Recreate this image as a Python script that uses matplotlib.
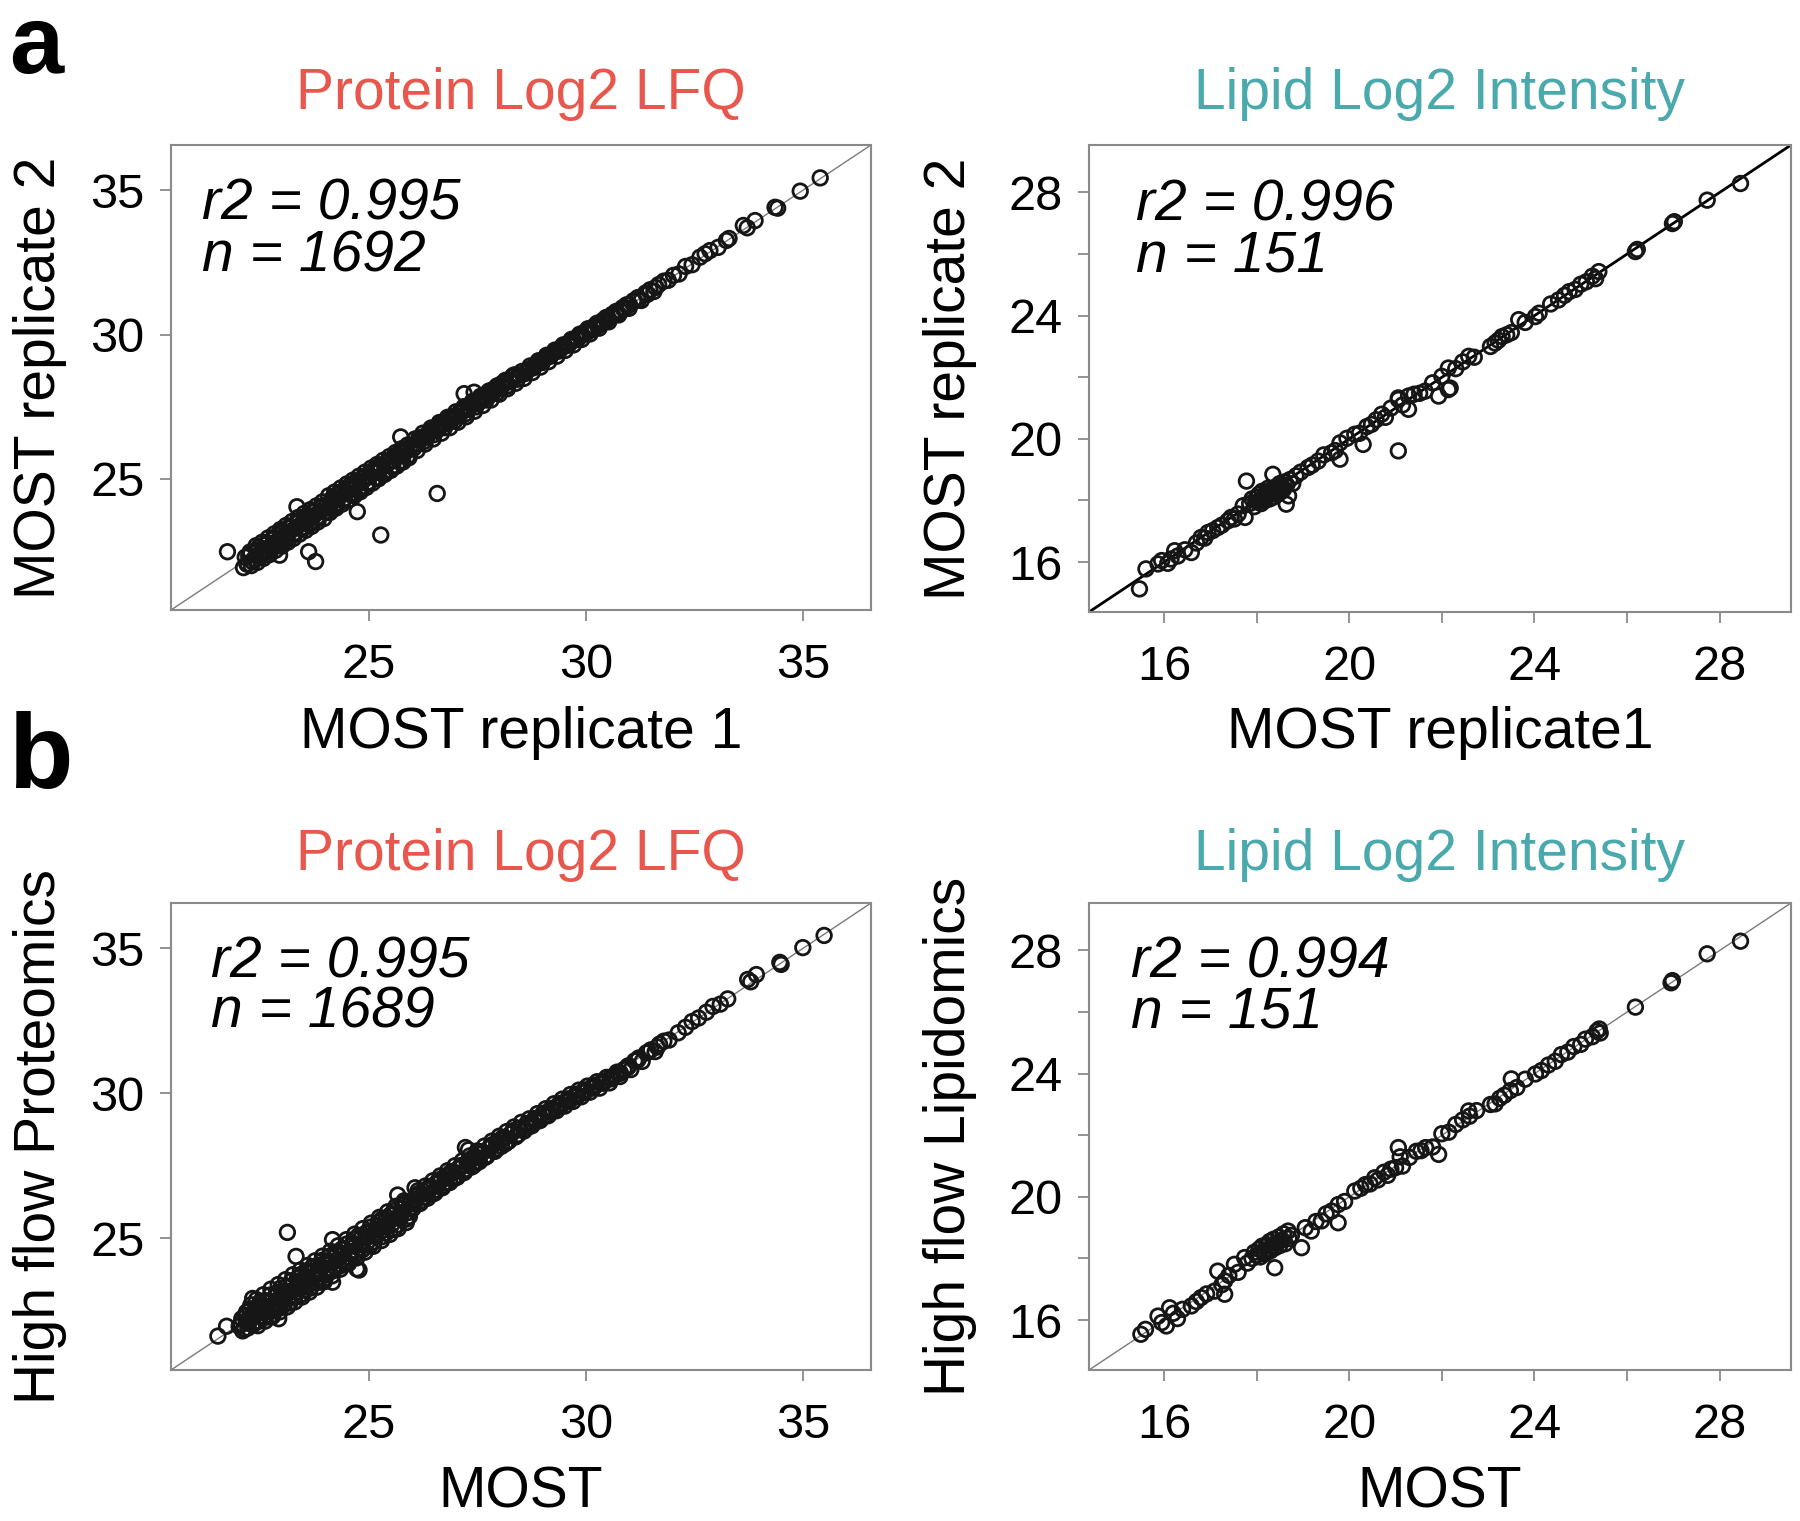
import matplotlib
matplotlib.use("Agg")
import matplotlib.pyplot as plt
import numpy as np

plt.rcParams['font.family'] = ['Liberation Sans', 'DejaVu Sans']

# ---------------- data ----------------
# panel a, proteins: MOST replicate 1 (x) vs MOST replicate 2 (y)
prot_a = [
    (22.12,21.92),(22.16,22.28),(22.21,22.05),(22.27,22.46),(22.30,21.99),(22.36,22.22),(22.41,22.68),(22.44,22.10),
    (22.50,22.41),(22.55,22.80),(22.58,22.24),(22.63,22.57),(22.69,22.95),(22.72,22.37),(22.78,22.70),(22.83,23.09),
    (22.86,22.52),(22.92,22.88),(22.97,23.24),(23.00,22.66),(23.06,23.01),(23.10,23.38),(23.14,22.80),(23.19,23.17),
    (23.24,23.52),(23.27,22.93),(23.33,23.30),(23.38,23.66),(23.41,23.08),(23.46,23.44),(23.52,23.80),(23.55,23.21),
    (23.60,23.58),(23.66,23.93),(23.69,23.35),(23.74,23.72),(23.80,24.06),(23.83,23.50),(23.88,23.86),(23.94,24.20),
    (23.97,23.62),
    (22.20,22.04),(22.29,22.44),(22.38,22.21),(22.47,22.63),(22.56,22.40),(22.65,22.79),(22.74,22.59),(22.83,22.97),
    (22.92,22.77),(23.01,23.17),(23.10,22.93),(23.19,23.35),(23.28,23.11),(23.37,23.53),(23.46,23.31),(23.55,23.69),
    (23.64,23.47),(23.73,23.89),(23.82,23.67),(23.91,24.05),(24.00,23.85),
    (22.24,22.33),(22.33,22.12),(22.43,22.52),(22.52,22.30),(22.62,22.71),(22.71,22.49),(22.81,22.90),(22.90,22.68),
    (23.00,23.10),(23.09,22.86),(23.19,23.29),(23.28,23.06),(23.38,23.48),(23.47,23.25),(23.57,23.67),(23.66,23.44),
    (23.76,23.86),(23.85,23.63),(23.95,24.05),
    (24.02,24.05),(24.08,24.41),(24.11,23.83),(24.16,24.20),(24.22,24.54),(24.25,23.98),(24.30,24.34),(24.36,24.68),
    (24.39,24.12),(24.44,24.48),(24.50,24.82),(24.53,24.26),(24.58,24.63),(24.64,24.95),(24.67,24.41),(24.72,24.77),
    (24.78,25.09),(24.81,24.55),(24.86,24.91),(24.92,25.23),(24.95,24.70),(25.00,25.06),(25.06,25.37),(25.09,24.85),
    (25.14,25.20),(25.20,25.50),(25.23,25.00),(25.28,25.35),(25.34,25.64),(25.37,25.15),(25.42,25.49),(25.48,25.77),
    (25.51,25.29),(25.56,25.63),(25.62,25.91),(25.65,25.44),(25.70,25.77),(25.76,26.04),(25.79,25.58),(25.84,25.91),
    (25.90,26.17),(25.93,25.73),
    (24.09,23.98),(24.18,24.35),(24.27,24.16),(24.36,24.53),(24.45,24.32),(24.54,24.73),(24.63,24.50),(24.72,24.91),
    (24.81,24.70),(24.90,25.07),(24.99,24.88),(25.08,25.27),(25.17,25.04),(25.26,25.45),(25.35,25.22),(25.44,25.61),
    (25.53,25.42),(25.62,25.81),(25.71,25.58),(25.80,25.99),(25.89,25.76),(25.98,26.15),
    (24.04,23.83),(24.14,24.27),(24.23,24.05),(24.33,24.46),(24.42,24.24),(24.52,24.65),(24.61,24.43),(24.71,24.85),
    (24.80,24.63),(24.90,25.04),(24.99,24.82),(25.09,25.24),(25.18,25.02),(25.28,25.43),(25.37,25.21),(25.47,25.63),
    (25.56,25.40),(25.66,25.82),(25.75,25.60),(25.85,26.01),(25.94,25.80),
    (26.00,26.14),(26.07,26.38),(26.12,25.98),(26.18,26.32),(26.25,26.58),(26.30,26.20),(26.37,26.52),(26.44,26.76),
    (26.49,26.38),(26.56,26.71),(26.63,26.95),(26.68,26.58),(26.75,26.90),(26.82,27.13),(26.87,26.77),(26.94,27.09),
    (27.01,27.32),(27.06,26.96),(27.13,27.28),(27.20,27.50),(27.25,27.15),(27.32,27.47),(27.39,27.68),(27.44,27.34),
    (27.51,27.65),(27.58,27.86),(27.63,27.54),(27.70,27.84),(27.77,28.04),(27.82,27.73),(27.89,28.03),(27.96,28.22),
    (28.01,27.93),(28.08,28.22),(28.15,28.41),(28.20,28.12),(28.27,28.41),(28.34,28.59),(28.39,28.31),(28.46,28.60),
    (26.04,26.06),(26.15,26.38),(26.27,26.29),(26.39,26.62),(26.51,26.53),(26.63,26.86),(26.75,26.77),(26.87,27.12),
    (26.99,27.01),(27.11,27.34),(27.23,27.25),(27.35,27.58),(27.47,27.49),(27.59,27.82),(27.71,27.73),(27.83,28.06),
    (27.95,27.97),(28.07,28.30),(28.19,28.21),(28.31,28.54),(28.43,28.45),
    (26.10,26.22),(26.22,26.44),(26.34,26.45),(26.46,26.68),(26.58,26.69),(26.70,26.92),(26.82,26.93),(26.94,27.16),
    (27.06,27.17),(27.18,27.40),(27.30,27.41),(27.42,27.64),(27.54,27.65),(27.66,27.88),(27.78,27.89),(27.90,28.12),
    (28.02,28.13),(28.14,28.36),(28.26,28.37),(28.38,28.60),
    (28.53,28.72),(28.58,28.48),(28.65,28.75),(28.72,28.91),(28.77,28.68),(28.84,28.94),(28.91,29.09),(28.96,28.87),
    (29.03,29.13),(29.10,29.28),(29.15,29.06),(29.22,29.32),(29.29,29.46),(29.34,29.25),(29.41,29.51),(29.48,29.64),
    (29.53,29.45),(29.60,29.70),(29.67,29.83),(29.72,29.64),(29.79,29.89),(29.86,30.01),(29.91,29.83),(29.98,30.08),
    (30.05,30.20),(30.10,30.02),(30.18,30.27),(30.26,30.39),(30.31,30.22),(30.39,30.48),(30.47,30.59),(30.53,30.44),
    (30.61,30.70),(30.70,30.80),(30.76,30.68),(30.85,30.93),(30.94,31.03),(31.00,30.91),(31.10,31.17),(31.20,31.28),
    (31.28,31.18),(31.38,31.44),(31.48,31.55),(31.57,31.49),(31.68,31.73),(31.80,31.85),(31.90,31.88),
    (28.61,28.65),(28.80,28.85),(29.00,29.03),(29.19,29.25),(29.39,29.43),(29.60,29.63),(29.81,29.83),(30.01,30.05),
    (30.21,30.23),(30.41,30.42),(30.60,30.63),(30.81,30.80),(31.01,31.03),(31.21,31.19),(31.42,31.39),(31.61,31.63),
    (28.70,28.80),(28.90,29.00),(29.10,29.20),(29.30,29.40),(29.50,29.58),(29.70,29.78),(29.90,29.96),(30.10,30.14),
    (30.30,30.32),(30.50,30.51),(30.70,30.70),(30.90,30.90),
    (32.02,32.05),(32.15,32.10),(32.30,32.36),(32.45,32.42),(32.63,32.68),(32.75,32.80),(32.86,32.91),(33.05,33.02),
    (33.24,33.26),(33.30,33.33),(33.63,33.78),(33.72,33.70),(33.90,33.95),(34.36,34.41),(34.42,34.38),(34.94,34.97),
    (35.40,35.43),
    # off-diagonal proteins
    (21.75,22.47),(23.62,22.47),(23.78,22.13),(25.28,23.05),(26.58,24.49),(24.74,23.86),(25.74,26.45),(27.20,27.95),
    (27.43,28.00),(23.35,24.03),(22.95,22.35),
]

# panel b, proteins: MOST (x) vs high flow proteomics (y)
prot_b = [
    (22.02,21.96),(22.08,22.22),(22.14,21.86),(22.19,22.45),(22.24,22.06),(22.29,22.70),(22.33,22.02),(22.37,22.40),
    (22.42,22.88),(22.45,21.98),(22.50,22.31),(22.54,22.66),(22.58,23.05),(22.62,22.14),(22.66,22.47),(22.71,22.83),
    (22.75,23.24),(22.79,22.30),(22.83,22.63),(22.88,23.01),(22.92,23.40),(22.96,22.46),(23.00,22.80),(23.05,23.17),
    (23.09,23.57),(23.13,22.63),(23.17,22.97),(23.22,23.35),(23.26,23.74),(23.30,22.80),(23.34,23.14),(23.39,23.52),
    (23.43,23.90),(23.47,22.97),(23.51,23.31),(23.56,23.69),(23.60,24.06),(23.64,23.14),(23.68,23.48),(23.73,23.86),
    (23.77,24.22),(23.81,23.31),(23.85,23.64),(23.90,24.03),(23.94,24.38),(23.98,23.50),
    (22.10,21.80),(22.18,22.15),(22.26,22.56),(22.34,22.01),(22.42,22.39),(22.50,22.80),(22.58,22.25),(22.66,22.63),
    (22.74,23.04),(22.82,22.49),(22.90,22.87),(22.98,23.28),(23.06,22.73),(23.14,23.11),(23.22,23.52),(23.30,22.97),
    (23.38,23.35),(23.46,23.76),(23.54,23.21),(23.62,23.59),(23.70,24.00),(23.78,23.45),(23.86,23.83),(23.94,24.24),
    (22.06,22.05),(22.16,22.34),(22.22,21.90),(22.31,22.25),(22.40,22.58),(22.47,22.13),(22.56,22.47),(22.64,22.84),
    (22.72,22.28),(22.80,22.70),(22.88,23.10),(22.94,22.58),(23.03,22.96),(23.11,23.33),(23.19,22.76),(23.28,23.23),
    (23.36,23.62),(23.44,23.05),(23.53,23.45),(23.58,23.86),(23.66,23.28),(23.75,23.68),(23.83,24.07),(23.92,23.48),
    (24.03,23.82),(24.07,24.20),(24.12,24.55),(24.16,23.70),(24.21,24.02),(24.26,24.40),(24.30,24.74),(24.35,23.93),
    (24.40,24.26),(24.45,24.62),(24.49,24.95),(24.54,24.13),(24.59,24.46),(24.64,24.83),(24.68,25.14),(24.73,24.32),
    (24.78,24.66),(24.83,25.03),(24.87,25.33),(24.92,24.52),(24.97,24.87),(25.02,25.23),(25.06,25.52),(25.11,24.72),
    (25.16,25.07),(25.21,25.43),(25.25,25.72),(25.30,24.92),(25.35,25.28),(25.40,25.63),(25.44,25.91),(25.49,25.13),
    (25.54,25.48),(25.59,25.83),(25.63,26.10),(25.68,25.33),(25.73,25.68),(25.78,26.03),(25.82,26.29),(25.87,25.54),
    (25.92,25.89),(25.97,26.22),
    (24.05,23.75),(24.14,24.14),(24.23,24.51),(24.32,24.03),(24.41,24.43),(24.50,24.80),(24.59,24.31),(24.68,24.72),
    (24.77,25.09),(24.86,24.60),(24.95,25.01),(25.04,25.38),(25.13,24.88),(25.22,25.30),(25.31,25.66),(25.40,25.17),
    (25.49,25.59),(25.58,25.95),(25.67,25.46),(25.76,25.88),(25.85,26.22),(25.94,25.75),
    (24.00,24.10),(24.10,24.38),(24.19,23.88),(24.28,24.26),(24.38,24.62),(24.47,24.10),(24.56,24.52),(24.66,24.96),
    (24.75,24.48),(24.84,24.80),(24.94,25.18),(25.03,24.74),(25.12,25.16),(25.22,25.54),(25.31,25.05),(25.40,25.44),
    (25.50,25.80),(25.59,25.30),(25.68,25.74),(25.78,26.14),(25.87,25.66),(25.96,26.04),
    (26.02,26.02),(26.08,26.34),(26.14,26.64),(26.19,26.20),(26.25,26.52),(26.31,26.80),(26.36,26.38),(26.42,26.70),
    (26.48,26.98),(26.53,26.56),(26.59,26.88),(26.65,27.15),(26.70,26.74),(26.76,27.06),(26.82,27.33),(26.87,26.92),
    (26.93,27.24),(26.99,27.50),(27.04,27.10),(27.10,27.42),(27.16,27.67),(27.21,27.28),(27.27,27.59),(27.33,27.84),
    (27.38,27.46),(27.44,27.77),(27.50,28.01),(27.55,27.64),(27.61,27.94),(27.67,28.18),(27.72,27.82),(27.78,28.11),
    (27.84,28.35),(27.89,28.00),(27.95,28.28),(28.01,28.52),(28.06,28.17),(28.12,28.45),(28.18,28.68),(28.23,28.35),
    (28.29,28.62),(28.35,28.84),(28.40,28.52),(28.46,28.78),(28.52,29.00),
    (26.05,26.18),(26.17,26.55),(26.29,26.42),(26.41,26.79),(26.53,26.66),(26.65,27.03),(26.77,26.90),(26.89,27.27),
    (27.01,27.14),(27.13,27.51),(27.25,27.38),(27.37,27.75),(27.49,27.62),(27.61,27.99),(27.73,27.86),(27.85,28.23),
    (27.97,28.10),(28.09,28.47),(28.21,28.34),(28.33,28.71),(28.45,28.58),
    (26.11,26.46),(26.23,26.30),(26.35,26.68),(26.47,26.52),(26.59,26.95),(26.71,26.80),(26.83,27.17),(26.95,27.04),
    (27.07,27.41),(27.19,27.26),(27.31,27.66),(27.43,27.52),(27.55,27.90),(27.67,27.78),(27.79,28.13),(27.91,28.00),
    (28.03,28.38),(28.15,28.26),(28.27,28.60),(28.39,28.50),
    (28.58,28.70),(28.64,28.95),(28.70,29.12),(28.76,28.88),(28.83,29.13),(28.89,29.30),(28.95,29.06),(29.02,29.31),
    (29.08,29.47),(29.14,29.23),(29.21,29.48),(29.27,29.64),(29.33,29.40),(29.40,29.65),(29.46,29.80),(29.52,29.56),
    (29.59,29.81),(29.65,29.96),(29.71,29.72),(29.78,29.97),(29.84,30.11),(29.90,29.88),(29.97,30.12),(30.04,30.25),
    (30.10,30.04),(30.18,30.28),(30.26,30.40),(30.32,30.18),(30.40,30.42),(30.48,30.55),(30.55,30.36),(30.63,30.59),
    (30.72,30.73),(30.79,30.58),(30.88,30.82),(30.97,30.94),(31.04,30.82),(31.13,31.12),(31.22,31.22),(31.30,31.10),
    (31.40,31.40),(31.50,31.50),(31.60,31.44),(31.70,31.70),(31.80,31.80),(31.92,31.84),
    (28.67,28.83),(28.86,29.02),(29.05,29.20),(29.24,29.38),(29.43,29.56),(29.62,29.73),(29.81,29.90),(30.00,30.07),
    (30.20,30.22),(30.40,30.35),(30.60,30.50),(30.80,30.70),(31.00,30.95),(31.20,31.15),(31.45,31.43),(31.65,31.60),
    (28.74,29.00),(28.95,29.18),(29.15,29.38),(29.36,29.55),(29.56,29.72),(29.76,29.88),(29.96,30.03),(30.16,30.18),
    (30.36,30.36),(30.56,30.52),(30.76,30.68),(30.96,30.88),
    (32.13,32.09),(32.30,32.28),(32.45,32.48),(32.60,32.60),(32.78,32.80),(32.93,33.00),(33.10,33.08),(33.27,33.26),
    (33.73,33.93),(33.80,33.85),(33.93,34.10),(34.47,34.52),(34.50,34.45),(35.00,35.03),(35.49,35.45),
    # off-diagonal proteins
    (23.13,25.20),(22.33,22.92),(21.53,21.62),(21.73,21.96),(24.17,24.95),(23.33,24.37),(24.73,23.94),(24.17,23.48),
    (25.67,26.49),(26.07,26.74),(27.23,28.13),(27.30,28.05),(24.78,23.90),(22.93,22.22),
]

# panel a, lipids: MOST replicate 1 (x) vs MOST replicate 2 (y)
lip_a = [
    (15.47,15.13),(15.61,15.78),(15.87,15.94),(15.95,16.05),(16.08,15.96),(16.15,16.10),(16.23,16.37),(16.30,16.20),
    (16.45,16.40),(16.59,16.31),(16.70,16.62),(16.80,16.80),(16.88,16.78),(16.95,16.96),(17.05,17.02),(17.16,17.12),
    (17.25,17.20),(17.38,17.34),(17.45,17.45),(17.52,17.40),(17.60,17.56),(17.71,17.83),(17.75,17.45),(17.78,18.63),
    (17.85,17.90),(17.90,18.05),(17.95,17.80),(18.00,18.10),(18.02,17.95),(18.05,18.20),(18.08,18.02),(18.10,17.90),
    (18.12,18.30),(18.15,18.10),(18.18,18.00),(18.20,18.25),(18.22,18.15),(18.25,18.40),(18.28,18.05),(18.30,18.22),
    (18.32,18.35),(18.35,18.85),(18.38,18.12),(18.40,18.30),(18.42,18.45),(18.45,18.20),(18.48,18.38),(18.50,18.55),
    (18.52,18.28),(18.55,18.45),(18.58,18.36),(18.60,18.60),(18.64,17.88),(18.65,18.50),(18.69,18.15),(18.72,18.68),
    (18.78,18.55),(18.85,18.80),(18.95,18.92),(19.11,19.07),(19.20,19.15),(19.33,19.28),(19.45,19.48),(19.62,19.55),
    (19.70,19.62),(19.80,19.87),(19.80,19.34),(19.95,20.02),(20.12,20.15),(20.22,20.18),(20.30,19.82),(20.38,20.40),
    (20.48,20.47),(20.58,20.62),(20.70,20.80),(20.78,20.70),(20.90,21.00),(21.06,19.61),(21.06,21.28),(21.06,21.33),
    (21.15,21.10),(21.28,21.39),(21.28,20.96),(21.40,21.45),(21.52,21.48),(21.64,21.55),(21.80,21.82),(21.93,21.39),
    (22.00,22.03),(22.14,21.60),(22.14,22.30),(22.18,21.65),(22.30,22.28),(22.45,22.50),(22.58,22.68),(22.70,22.65),
    (23.05,23.00),(23.15,23.11),(23.22,23.20),(23.30,23.32),(23.40,23.38),(23.50,23.45),(23.66,23.87),(23.80,23.78),
    (24.02,23.97),(24.10,24.08),(24.35,24.38),(24.52,24.51),(24.65,24.66),(24.75,24.78),(24.88,24.85),(25.00,25.02),
    (25.12,25.10),(25.25,25.28),(25.32,25.20),(25.39,25.43),(26.18,26.08),(26.22,26.15),(26.98,26.99),(27.02,27.05),
    (27.73,27.75),(28.45,28.29),
]

# panel b, lipids: MOST (x) vs high flow lipidomics (y)
lip_b = [
    (15.50,15.54),(15.60,15.70),(15.87,16.13),(15.95,15.92),(16.05,15.81),(16.12,16.40),(16.20,16.22),(16.29,16.05),
    (16.40,16.35),(16.59,16.46),(16.70,16.60),(16.80,16.73),(16.92,16.85),(17.09,16.94),(17.16,17.59),(17.25,17.15),
    (17.31,17.27),(17.31,16.84),(17.40,17.45),(17.52,17.81),(17.60,17.55),(17.74,18.03),(17.80,17.85),(17.90,18.00),
    (17.95,18.20),(18.00,18.10),(18.05,18.30),(18.08,18.05),(18.12,18.40),(18.15,18.22),(18.18,18.15),(18.22,18.45),
    (18.25,18.30),(18.28,18.55),(18.30,18.25),(18.33,18.40),(18.36,18.62),(18.39,17.70),(18.40,18.35),(18.44,18.50),
    (18.48,18.70),(18.50,18.42),(18.55,18.60),(18.58,18.80),(18.62,18.48),(18.68,18.89),(18.70,18.65),(18.75,18.75),
    (18.97,18.35),(19.05,19.00),(19.18,18.89),(19.28,19.20),(19.40,19.22),(19.50,19.45),(19.62,19.54),(19.76,19.16),
    (19.76,19.75),(19.90,19.85),(20.12,20.19),(20.25,20.28),(20.35,20.40),(20.45,20.42),(20.55,20.62),(20.62,20.55),
    (20.75,20.80),(20.83,20.70),(20.90,20.90),(21.00,20.95),(21.06,21.60),(21.10,21.30),(21.15,21.00),(21.30,21.28),
    (21.45,21.48),(21.55,21.50),(21.65,21.60),(21.80,21.62),(21.93,21.38),(22.00,22.05),(22.15,22.10),(22.30,22.35),
    (22.45,22.50),(22.58,22.79),(22.60,22.62),(22.75,22.80),(23.05,23.00),(23.15,23.02),(23.25,23.20),(23.35,23.30),
    (23.48,23.45),(23.50,23.83),(23.62,23.55),(23.80,23.82),(24.02,23.99),(24.15,24.10),(24.30,24.28),(24.45,24.40),
    (24.58,24.62),(24.72,24.70),(24.85,24.88),(25.00,24.95),(25.10,25.12),(25.25,25.20),(25.35,25.38),(25.40,25.45),
    (25.42,25.32),(26.18,26.16),(26.95,26.95),(26.98,27.02),(27.73,27.89),(28.45,28.30),
]

titles = ['Protein Log2 LFQ', 'Lipid Log2 Intensity']
title_colors = ['#E8574D', '#4AA9AC']
stats = [['r2 = 0.995', 'n = 1692'], ['r2 = 0.996', 'n = 151'],
         ['r2 = 0.995', 'n = 1689'], ['r2 = 0.994', 'n = 151']]
xlabels = ['MOST replicate 1', 'MOST replicate1', 'MOST', 'MOST']
ylabels = ['MOST replicate 2', 'MOST replicate 2', 'High flow Proteomics', 'High flow Lipidomics']

prot_lim = (20.45, 36.57)
lip_lim = (14.38, 29.54)
prot_ticks = [25, 30, 35]
lip_ticks = [16, 18, 20, 22, 24, 26, 28]
lip_ticklabels = ['16', '', '20', '', '24', '', '28']

# ---------------- figure ----------------
fig = plt.figure(figsize=(18, 15.21), dpi=100)

W, H = 1800.0, 1521.0
boxes = [(171, 145, 871, 610), (1089, 145, 1791, 612),
         (171, 903, 871, 1370), (1089, 903, 1791, 1370)]
datasets = [prot_a, lip_a, prot_b, lip_b]
diag_style = [dict(color='#7a7a7a', lw=1.0), dict(color='black', lw=2.0),
              dict(color='#7a7a7a', lw=1.0), dict(color='#7a7a7a', lw=1.0)]
stat_x = [202, 1136, 211, 1131]
stat_y = [(220, 271), (220, 271), (977, 1027), (977, 1027)]
grey = '#8a8a8a'

for i in range(4):
    x0, y0, x1, y1 = boxes[i]
    ax = fig.add_axes([x0 / W, 1 - y1 / H, (x1 - x0) / W, (y1 - y0) / H])
    pts = np.array(datasets[i])
    lipid = (i % 2 == 1)
    lim = lip_lim if lipid else prot_lim

    ax.plot(lim, lim, zorder=1, **diag_style[i])
    ax.scatter(pts[:, 0], pts[:, 1], s=110, facecolors='none',
               edgecolors='#161616', linewidths=2.0, zorder=2)

    ax.set_xlim(lim)
    ax.set_ylim(lim)
    if lipid:
        ax.set_xticks(lip_ticks)
        ax.set_yticks(lip_ticks)
        ax.set_xticklabels(lip_ticklabels)
        ax.set_yticklabels(lip_ticklabels)
    else:
        ax.set_xticks(prot_ticks)
        ax.set_yticks(prot_ticks)

    for sp in ax.spines.values():
        sp.set_color(grey)
        sp.set_linewidth(1.5)
    ax.tick_params(direction='out', length=8, width=1.3, color=grey,
                   labelcolor='black', labelsize=35)
    ax.tick_params(axis='x', pad=16)
    ax.tick_params(axis='y', pad=11)

    # r2 / n annotation
    ax.text((stat_x[i] - x0) / (x1 - x0), (y1 - stat_y[i][0]) / (y1 - y0), stats[i][0],
            transform=ax.transAxes, fontsize=41, style='italic', va='baseline', ha='left')
    ax.text((stat_x[i] - x0) / (x1 - x0), (y1 - stat_y[i][1]) / (y1 - y0), stats[i][1],
            transform=ax.transAxes, fontsize=41, style='italic', va='baseline', ha='left')

    # title above the box
    cx = (x0 + x1) / 2.0 / W
    ty = 109 if i < 2 else 870
    fig.text(cx, 1 - ty / H, titles[i % 2], color=title_colors[i % 2],
             fontsize=41, ha='center', va='baseline')

    # axis labels
    xb = 748 if i < 2 else 1507
    fig.text(cx, 1 - xb / H, xlabels[i], fontsize=41, ha='center', va='baseline')
    ylx = 40 if i % 2 == 0 else 950
    fig.text(ylx / W, 1 - (y0 + y1) / 2.0 / H, ylabels[i], fontsize=41,
             rotation=90, ha='center', va='center')

fig.text(9 / W, 1 - 73 / H, 'a', fontsize=70, fontweight='bold', va='baseline')
fig.text(8 / W, 1 - 788 / H, 'b', fontsize=76, fontweight='bold', va='baseline')

fig.savefig('out.png', dpi=100)
plt.close('all')
